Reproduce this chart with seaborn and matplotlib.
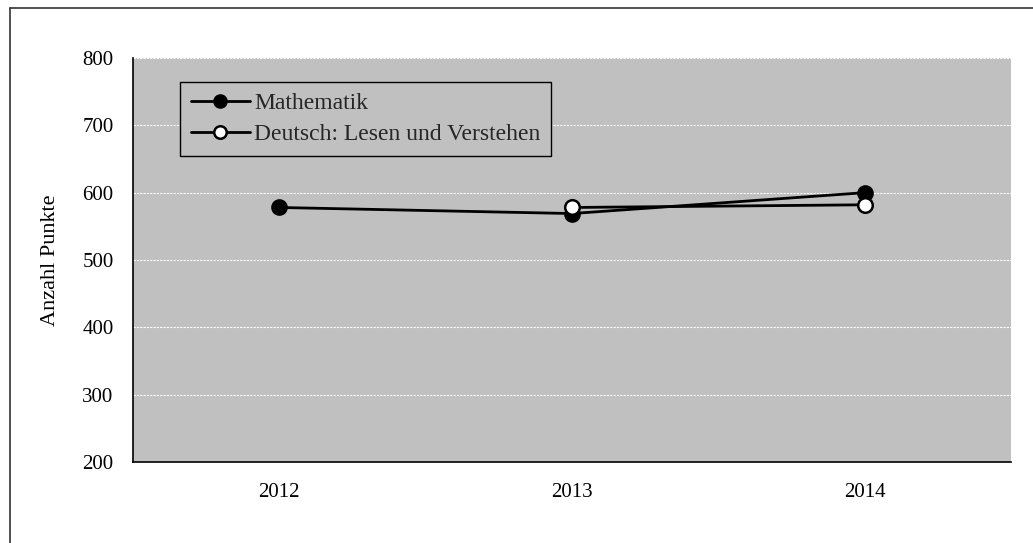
import matplotlib
matplotlib.use("Agg")
import matplotlib.pyplot as plt
from matplotlib.lines import Line2D
import numpy as np
import pandas as pd
import seaborn as sns

# Data
years = ["2012", "2013", "2014"]
mathematik = [578, 569, 600]
deutsch = [np.nan, 578, 582]
series_names = ["Mathematik", "Deutsch: Lesen und Verstehen"]
y_ticks = [200, 300, 400, 500, 600, 700, 800]

sns.set_theme(style="white")
plt.rcParams["font.family"] = ["Liberation Serif", "DejaVu Serif"]

fig = plt.figure(figsize=(10.33, 5.43), dpi=100)
ax = fig.add_axes([133 / 1033, 1 - 462 / 543, (1011 - 133) / 1033, (462 - 58) / 543])
ax.set_facecolor("#c0c0c0")

df_m = pd.DataFrame({"Jahr": years, "Punkte": mathematik})
df_d = pd.DataFrame({"Jahr": years, "Punkte": deutsch})

sns.lineplot(data=df_m, x="Jahr", y="Punkte", ax=ax, color="black", linewidth=2.0,
             marker="o", markersize=10.5, markerfacecolor="black",
             markeredgecolor="black", markeredgewidth=1.5, label=series_names[0],
             sort=False)
sns.lineplot(data=df_d, x="Jahr", y="Punkte", ax=ax, color="black", linewidth=2.0,
             marker="o", markersize=10.5, markerfacecolor="white",
             markeredgecolor="black", markeredgewidth=1.8, label=series_names[1],
             sort=False)

ax.set_xlim(-0.5, 2.5)
ax.set_ylim(200, 800)
ax.set_yticks(y_ticks)
ax.set_xticks(range(len(years)))
ax.set_xticklabels(years)
ax.tick_params(axis="both", labelsize=15, length=0, colors="black")
ax.tick_params(axis="x", pad=15)
ax.tick_params(axis="y", pad=14)
ax.set_xlabel("")
ax.set_ylabel("Anzahl Punkte", fontsize=16, color="black", labelpad=16)

ax.yaxis.grid(True, color="white", linestyle=(0, (2, 1)), linewidth=0.8)
ax.xaxis.grid(False)
ax.set_axisbelow(True)
for side in ["top", "right"]:
    ax.spines[side].set_visible(False)
for side in ["left", "bottom"]:
    ax.spines[side].set_visible(True)
    ax.spines[side].set_color("black")
    ax.spines[side].set_linewidth(1.2)

leg = ax.legend(loc="upper left", bbox_to_anchor=(0.0535, 0.94), frameon=True,
                fancybox=False, framealpha=1, facecolor="#c0c0c0", edgecolor="black",
                fontsize=17, handlelength=2.5, handletextpad=0.2, borderpad=0.45,
                labelspacing=0.4, borderaxespad=0)
leg.get_frame().set_linewidth(1.0)
for h in leg.legend_handles:
    h.set_markersize(9)

# Frame around the chart (left and top edges)
fig.add_artist(Line2D([9.5 / 1033, 9.5 / 1033], [0, 1 - 7.5 / 543], color="#333333", linewidth=1.2))
fig.add_artist(Line2D([9.5 / 1033, 1], [1 - 7.5 / 543, 1 - 7.5 / 543], color="#333333", linewidth=1.2))

fig.savefig("out.png", dpi=100, facecolor="white")
